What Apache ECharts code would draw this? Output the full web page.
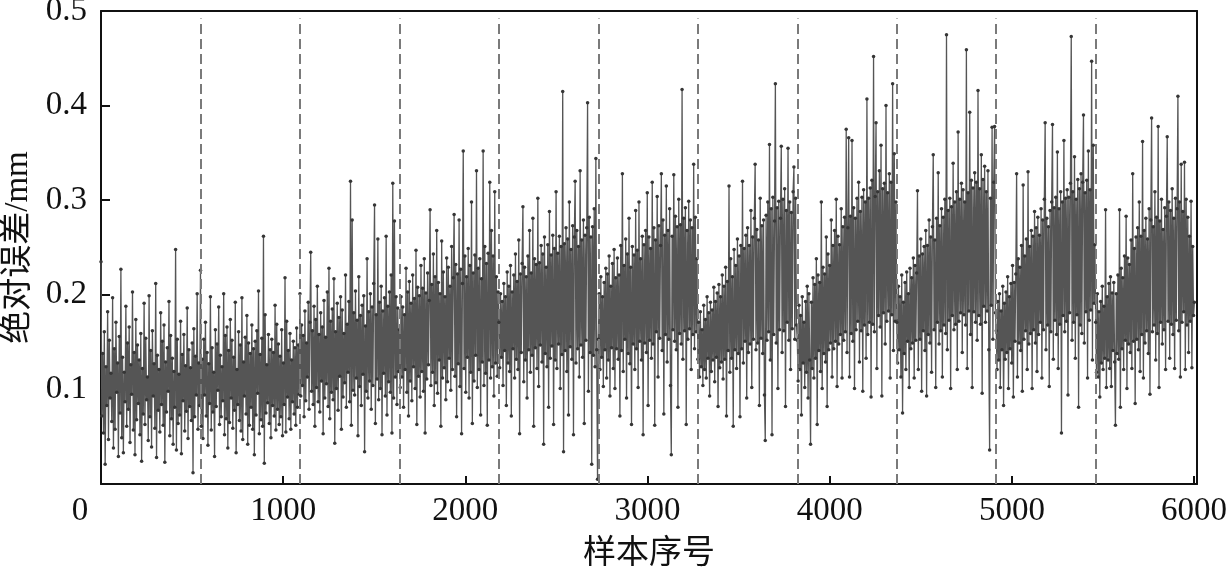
<!DOCTYPE html>
<html>
<head>
<meta charset="utf-8">
<script src="https://cdn.jsdelivr.net/npm/echarts@6/dist/echarts.min.js"></script>
<style>
  html, body { margin: 0; padding: 0; background: #fff; }
  #main { width: 1230px; height: 575px; }
</style>
</head>
<body>
<div id="main"></div>
<script>
// 各工况段的绝对误差/mm
const seg1 = [0.235,0.072,0.138,0.054,0.161,0.021,0.124,0.083,0.182,0.047,0.152,0.091,0.117,0.066,0.197,0.038,0.143,0.058,0.171,0.097,0.128,0.029,0.156,0.075,0.227,0.049,0.134,0.033,0.118,0.087,0.188,0.061,0.149,0.079,0.166,0.044,0.126,0.095,0.203,0.057,0.139,0.031,0.174,0.068,0.147,0.085,0.131,0.052,0.159,0.024,0.122,0.074,0.191,0.063,0.154,0.089,0.113,0.046,0.199,0.071,0.141,0.039,0.162,0.093,0.127,0.059,0.212,0.028,0.136,0.078,0.121,0.055,0.181,0.084,0.151,0.062,0.168,0.023,0.129,0.076,0.144,0.098,0.193,0.051,0.157,0.069,0.133,0.042,0.119,0.081,0.248,0.036,0.153,0.064,0.116,0.073,0.172,0.032,0.137,0.088,0.158,0.056,0.125,0.077,0.186,0.048,0.142,0.082,0.123,0.067,0.149,0.012,0.164,0.071,0.135,0.094,0.201,0.058,0.128,0.083]
const seg2 = [0.226,0.061,0.132,0.048,0.153,0.094,0.171,0.072,0.139,0.041,0.127,0.085,0.198,0.057,0.144,0.076,0.118,0.029,0.163,0.082,0.148,0.099,0.187,0.063,0.136,0.071,0.124,0.088,0.201,0.052,0.157,0.069,0.166,0.038,0.141,0.065,0.174,0.091,0.152,0.059,0.134,0.078,0.192,0.033,0.121,0.084,0.161,0.067,0.147,0.056,0.197,0.047,0.129,0.093,0.155,0.074,0.178,0.042,0.149,0.062,0.138,0.081,0.168,0.058,0.143,0.031,0.151,0.073,0.162,0.096,0.204,0.053,0.137,0.068,0.154,0.061,0.262,0.022,0.179,0.075,0.126,0.086,0.158,0.064,0.142,0.049,0.153,0.083,0.139,0.072,0.189,0.057,0.169,0.079,0.148,0.063,0.135,0.071,0.163,0.051,0.128,0.084,0.218,0.055,0.172,0.092,0.141,0.069,0.159,0.058,0.131,0.087,0.151,0.074,0.144,0.062,0.165,0.081,0.147,0.095]
const seg3 = [0.201,0.093,0.168,0.104,0.157,0.071,0.183,0.088,0.149,0.113,0.192,0.079,0.171,0.245,0.098,0.162,0.084,0.188,0.061,0.174,0.102,0.209,0.087,0.158,0.076,0.181,0.109,0.166,0.053,0.194,0.091,0.155,0.106,0.203,0.082,0.228,0.069,0.172,0.097,0.185,0.089,0.217,0.043,0.161,0.101,0.191,0.078,0.176,0.114,0.198,0.058,0.184,0.092,0.159,0.107,0.221,0.081,0.169,0.118,0.193,0.087,0.32,0.062,0.279,0.099,0.181,0.094,0.204,0.112,0.173,0.051,0.219,0.103,0.178,0.083,0.189,0.116,0.199,0.034,0.167,0.098,0.238,0.091,0.182,0.109,0.201,0.079,0.187,0.104,0.212,0.295,0.064,0.179,0.111,0.259,0.089,0.192,0.101,0.209,0.052,0.183,0.117,0.197,0.093,0.262,0.073,0.188,0.108,0.203,0.097,0.221,0.054,0.318,0.091,0.278,0.113,0.198,0.084,0.186,0.119]
const seg4 = [0.163,0.102,0.198,0.113,0.187,0.081,0.179,0.121,0.228,0.097,0.203,0.072,0.214,0.109,0.191,0.088,0.221,0.124,0.196,0.101,0.247,0.063,0.208,0.114,0.199,0.092,0.231,0.119,0.207,0.098,0.238,0.054,0.202,0.111,0.223,0.126,0.194,0.29,0.104,0.211,0.118,0.243,0.083,0.219,0.107,0.268,0.096,0.213,0.131,0.201,0.061,0.257,0.112,0.224,0.123,0.198,0.089,0.239,0.108,0.229,0.133,0.209,0.099,0.251,0.121,0.218,0.285,0.114,0.232,0.071,0.222,0.127,0.279,0.103,0.227,0.053,0.212,0.352,0.122,0.241,0.097,0.219,0.134,0.249,0.091,0.231,0.118,0.298,0.064,0.223,0.109,0.242,0.136,0.331,0.102,0.228,0.121,0.238,0.073,0.217,0.129,0.352,0.104,0.251,0.117,0.233,0.062,0.244,0.131,0.319,0.112,0.268,0.124,0.241,0.093,0.309,0.128,0.219,0.114,0.203]
const seg5 = [0.171,0.123,0.201,0.134,0.193,0.104,0.212,0.141,0.198,0.083,0.224,0.128,0.209,0.119,0.231,0.072,0.203,0.143,0.221,0.112,0.243,0.132,0.214,0.121,0.258,0.053,0.222,0.139,0.233,0.293,0.108,0.229,0.131,0.219,0.091,0.241,0.142,0.268,0.118,0.223,0.136,0.281,0.061,0.238,0.144,0.232,0.122,0.302,0.103,0.234,0.147,0.252,0.129,0.243,0.042,0.261,0.138,0.229,0.124,0.253,0.081,0.288,0.133,0.242,0.146,0.263,0.063,0.249,0.131,0.309,0.122,0.244,0.148,0.262,0.101,0.251,0.137,0.415,0.034,0.254,0.141,0.271,0.119,0.259,0.073,0.298,0.145,0.248,0.132,0.273,0.052,0.261,0.32,0.128,0.268,0.143,0.251,0.113,0.331,0.147,0.258,0.134,0.279,0.064,0.263,0.152,0.271,0.403,0.098,0.282,0.139,0.261,0.021,0.272,0.136,0.291,0.124,0.344,0.142,0.005]
const seg6 = [0.153,0.201,0.121,0.219,0.134,0.198,0.103,0.213,0.142,0.228,0.112,0.222,0.131,0.241,0.093,0.209,0.144,0.233,0.122,0.248,0.101,0.218,0.143,0.239,0.132,0.221,0.072,0.252,0.141,0.328,0.119,0.231,0.153,0.259,0.091,0.243,0.138,0.281,0.127,0.229,0.063,0.251,0.148,0.242,0.121,0.289,0.143,0.247,0.102,0.298,0.151,0.238,0.131,0.262,0.052,0.253,0.149,0.268,0.139,0.308,0.083,0.261,0.152,0.249,0.133,0.319,0.148,0.271,0.062,0.258,0.161,0.304,0.113,0.273,0.154,0.252,0.328,0.141,0.279,0.074,0.263,0.158,0.315,0.129,0.268,0.153,0.291,0.104,0.031,0.262,0.163,0.327,0.151,0.283,0.142,0.272,0.081,0.301,0.159,0.274,0.148,0.417,0.132,0.281,0.162,0.292,0.063,0.268,0.153,0.299,0.164,0.279,0.121,0.271,0.158,0.338,0.143,0.282,0.161,0.238]
const seg7 = [0.132,0.171,0.113,0.182,0.124,0.163,0.104,0.189,0.121,0.174,0.112,0.198,0.133,0.181,0.093,0.192,0.119,0.184,0.131,0.208,0.108,0.193,0.134,0.202,0.082,0.211,0.123,0.198,0.129,0.221,0.111,0.209,0.132,0.229,0.072,0.214,0.141,0.315,0.118,0.238,0.133,0.219,0.061,0.248,0.142,0.231,0.122,0.259,0.138,0.241,0.071,0.252,0.143,0.32,0.128,0.249,0.151,0.263,0.091,0.271,0.139,0.252,0.148,0.289,0.102,0.261,0.153,0.281,0.338,0.142,0.269,0.149,0.258,0.083,0.302,0.154,0.273,0.138,0.279,0.094,0.046,0.284,0.152,0.298,0.161,0.359,0.131,0.291,0.052,0.303,0.158,0.278,0.423,0.149,0.292,0.101,0.299,0.163,0.281,0.357,0.139,0.301,0.162,0.312,0.082,0.289,0.171,0.355,0.152,0.298,0.121,0.287,0.164,0.309,0.335,0.153,0.302,0.168]
const seg8 = [0.152,0.109,0.189,0.121,0.178,0.073,0.198,0.128,0.171,0.102,0.193,0.118,0.209,0.091,0.201,0.131,0.042,0.192,0.122,0.218,0.112,0.211,0.133,0.238,0.063,0.221,0.141,0.213,0.119,0.298,0.101,0.229,0.138,0.222,0.129,0.261,0.082,0.243,0.142,0.231,0.149,0.279,0.113,0.252,0.143,0.268,0.151,0.301,0.103,0.262,0.148,0.253,0.158,0.291,0.112,0.272,0.152,0.282,0.161,0.375,0.139,0.271,0.366,0.113,0.283,0.159,0.363,0.151,0.292,0.101,0.281,0.163,0.302,0.172,0.319,0.129,0.288,0.162,0.303,0.098,0.311,0.168,0.298,0.133,0.407,0.158,0.302,0.171,0.313,0.092,0.321,0.169,0.452,0.161,0.304,0.382,0.122,0.309,0.178,0.331,0.166,0.358,0.093,0.312,0.181,0.318,0.148,0.4,0.172,0.308,0.183,0.328,0.112,0.319,0.179,0.423,0.141,0.349,0.172,0.298]
const seg9 = [0.171,0.128,0.209,0.142,0.198,0.113,0.221,0.075,0.192,0.138,0.213,0.121,0.224,0.151,0.201,0.102,0.228,0.143,0.218,0.149,0.239,0.112,0.231,0.152,0.223,0.31,0.121,0.241,0.153,0.259,0.098,0.243,0.162,0.251,0.141,0.268,0.093,0.252,0.158,0.279,0.149,0.261,0.118,0.272,0.348,0.163,0.258,0.102,0.281,0.171,0.329,0.148,0.273,0.162,0.291,0.113,0.282,0.168,0.301,0.159,0.475,0.142,0.289,0.173,0.302,0.101,0.293,0.178,0.339,0.163,0.298,0.169,0.309,0.121,0.372,0.172,0.301,0.181,0.318,0.139,0.311,0.179,0.298,0.168,0.459,0.122,0.308,0.183,0.393,0.158,0.321,0.102,0.313,0.182,0.329,0.171,0.319,0.152,0.416,0.178,0.312,0.169,0.348,0.096,0.322,0.188,0.336,0.171,0.309,0.183,0.331,0.142,0.036,0.302,0.189,0.377,0.153,0.319,0.378,0.181]
const seg10 = [0.162,0.121,0.193,0.131,0.201,0.102,0.183,0.142,0.209,0.083,0.191,0.132,0.203,0.139,0.219,0.101,0.198,0.143,0.212,0.128,0.231,0.092,0.213,0.151,0.222,0.328,0.113,0.238,0.149,0.229,0.141,0.252,0.098,0.316,0.153,0.241,0.162,0.259,0.121,0.33,0.148,0.251,0.159,0.268,0.101,0.262,0.163,0.288,0.149,0.271,0.119,0.282,0.158,0.263,0.171,0.291,0.112,0.279,0.163,0.301,0.382,0.142,0.281,0.168,0.272,0.103,0.289,0.161,0.298,0.38,0.132,0.292,0.173,0.303,0.158,0.351,0.122,0.291,0.169,0.309,0.054,0.298,0.178,0.363,0.161,0.302,0.172,0.311,0.094,0.303,0.181,0.318,0.473,0.152,0.309,0.171,0.346,0.133,0.301,0.179,0.322,0.081,0.312,0.168,0.328,0.159,0.319,0.39,0.149,0.308,0.182,0.321,0.112,0.352,0.173,0.311,0.184,0.447,0.131,0.358,0.191,0.253]
const seg11 = [0.171,0.118,0.201,0.113,0.182,0.092,0.193,0.128,0.209,0.121,0.188,0.133,0.29,0.102,0.198,0.131,0.212,0.122,0.219,0.103,0.202,0.141,0.213,0.129,0.062,0.201,0.138,0.221,0.132,0.29,0.081,0.228,0.143,0.218,0.121,0.241,0.152,0.283,0.101,0.239,0.148,0.232,0.139,0.258,0.122,0.328,0.151,0.249,0.085,0.261,0.153,0.271,0.142,0.298,0.119,0.262,0.158,0.362,0.112,0.268,0.149,0.281,0.162,0.259,0.138,0.291,0.095,0.279,0.387,0.161,0.272,0.168,0.309,0.131,0.282,0.159,0.378,0.102,0.278,0.171,0.301,0.148,0.269,0.163,0.292,0.121,0.283,0.367,0.172,0.298,0.133,0.289,0.169,0.312,0.158,0.281,0.122,0.302,0.173,0.291,0.41,0.162,0.298,0.113,0.338,0.171,0.288,0.182,0.34,0.121,0.301,0.168,0.282,0.139,0.262,0.172,0.299,0.123,0.251,0.178,0.192]

// 段分界 (样本序号)，画成虚线
const segmentBounds = [546, 1092, 1638, 2184, 2730, 3276, 3822, 4368, 4914, 5460]
const segLen = 546

const segments = [seg1, seg2, seg3, seg4, seg5, seg6, seg7, seg8, seg9, seg10, seg11]
var points = []
segments.forEach(function (seg, k) {
  var start = k * segLen
  var step = segLen / seg.length
  for (var i = 0; i < seg.length; i++) {
    points.push([start + i * step, seg[i]])
  }
})

const serif = '"Liberation Serif", "Noto Sans CJK SC", serif'

let myChart = echarts.init(document.getElementById('main'))
myChart.setOption({
  animation: false,
  backgroundColor: '#fff',
  grid: { left: 101, right: 33, top: 11, bottom: 91, outerBoundsMode: 'none', containLabel: false },
  xAxis: [
    {
      type: 'value',
      min: 0,
      max: 6016,
      interval: 1000,
      name: '样本序号',
      nameLocation: 'middle',
      nameGap: 54,
      nameTextStyle: { fontFamily: serif, fontSize: 33, color: '#111' },
      axisLine: { show: true, onZero: false, lineStyle: { color: '#111', width: 2 } },
      axisTick: { show: true, inside: true, length: 8, lineStyle: { color: '#111', width: 2 } },
      axisLabel: {
        margin: 11,
        fontFamily: serif, fontSize: 33, color: '#111',
        showMaxLabel: false,
        formatter: function (v) { return v === 0 ? '{z|0}' : String(v) },
        rich: { z: { fontFamily: serif, fontSize: 33, color: '#111', padding: [0, 42, 0, 0] } }
      },
      splitLine: { show: false }
    },
    {
      type: 'value', position: 'top', min: 0, max: 6016,
      axisLine: { show: true, onZero: false, lineStyle: { color: '#111', width: 2 } },
      axisTick: { show: false }, axisLabel: { show: false }, splitLine: { show: false }
    }
  ],
  yAxis: [
    {
      type: 'value',
      min: 0,
      max: 0.5,
      interval: 0.1,
      name: '绝对误差/mm',
      nameLocation: 'middle',
      nameGap: 63,
      nameTextStyle: { fontFamily: serif, fontSize: 33, color: '#111' },
      axisLine: { show: true, onZero: false, lineStyle: { color: '#111', width: 2 } },
      axisTick: { show: true, inside: true, length: 9, lineStyle: { color: '#111', width: 2 } },
      axisLabel: {
        margin: 14,
        fontFamily: serif, fontSize: 33, color: '#111',
        formatter: function (v) { return v === 0 ? '' : v.toFixed(1) }
      },
      splitLine: { show: false }
    },
    {
      type: 'value', position: 'right', min: 0, max: 0.5,
      axisLine: { show: true, onZero: false, lineStyle: { color: '#111', width: 2 } },
      axisTick: { show: false }, axisLabel: { show: false }, splitLine: { show: false }
    }
  ],
  series: [
    {
      name: '绝对误差',
      type: 'line',
      data: points,
      showSymbol: true,
      showAllSymbol: true,
      symbol: 'circle',
      symbolSize: 3.5,
      itemStyle: { color: '#363636' },
      lineStyle: { color: '#555555', width: 1.3 },
      markLine: {
        silent: true,
        symbol: 'none',
        label: { show: false },
        lineStyle: { color: '#7a7a7a', width: 2, type: [10, 5] },
        data: segmentBounds.map(function (b) {
          return [{ coord: [b, 0] }, { coord: [b, 0.492] }]
        })
      }
    }
  ]
})
</script>
</body>
</html>
